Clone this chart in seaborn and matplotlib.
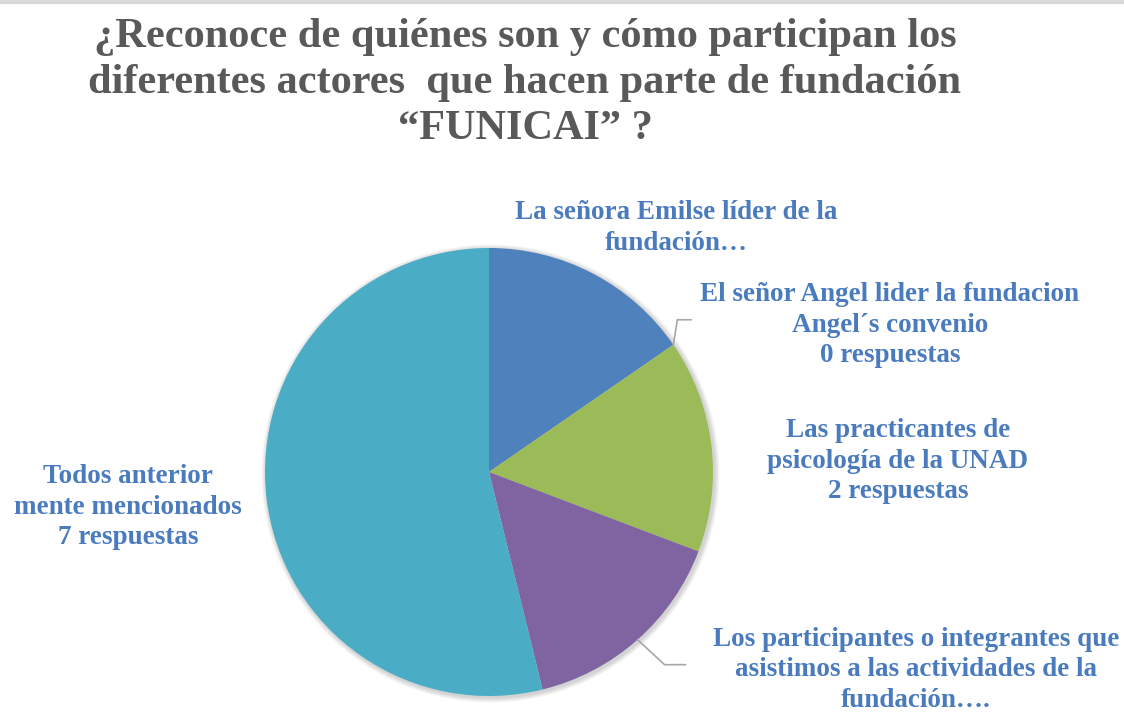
import matplotlib
matplotlib.use("Agg")
import matplotlib.pyplot as plt
import numpy as np
import seaborn as sns

# data
categories = [
    "La señora Emilse líder de la\nfundación…",
    "El señor Angel lider la fundacion\nAngel´s convenio\n0 respuestas",
    "Las practicantes de\npsicología de la UNAD\n2 respuestas",
    "Los participantes o integrantes que\nasistimos a las actividades de la\nfundación….",
    "Todos anterior\nmente mencionados\n7 respuestas",
]
responses = [2, 0, 2, 2, 7]
slice_colors = ["#4F81BD", "#C0504D", "#9BBB59", "#8064A2", "#4BACC6"]
title = "¿Reconoce de quiénes son y cómo participan los\ndiferentes actores  que hacen parte de fundación\n“FUNICAI” ?"

sns.set_theme(style="white")
plt.rcParams["font.family"] = ["Liberation Serif", "DejaVu Serif"]

W, H = 1124, 715
fig = plt.figure(figsize=(W / 100, H / 100), dpi=100)
ax = fig.add_axes([0, 0, 1, 1])

cx, cy, r = 489, H - 472, 224

# soft shadow behind the pie
for k in range(1, 6):
    ax.add_patch(plt.Circle((cx + 1.5, cy - 1.5), r + k, color="#000000",
                            alpha=0.035, lw=0, zorder=0))

ax.pie(responses, colors=slice_colors, startangle=90, counterclock=False,
       center=(cx, cy), radius=r, wedgeprops=dict(linewidth=0, zorder=1))
ax.set_xlim(0, W)
ax.set_ylim(0, H)
ax.set_aspect("equal")
ax.axis("off")

# light rule along the top edge
ax.plot([0, W], [H - 1.5, H - 1.5], color="#d9d9d9", lw=3, solid_capstyle="butt")

ax.text(525, H - 83, title, ha="center", va="center", fontsize=30.5,
        fontweight="bold", color="#595959", linespacing=1.26)

label_color = "#4a7bbf"
label_pos = [(676, 228), (890, 325), (898, 461), (916, 670), (128, 507)]
for lab, (x, y) in zip(categories, label_pos):
    ax.text(x, H - y, lab, ha="center", va="center", fontsize=19.5,
            fontweight="bold", color=label_color, linespacing=1.27)

# leader lines for the zero slice and the participants slice
total = sum(responses)
cum = np.cumsum([0] + responses)
def edge_point(frac):
    ang = np.deg2rad(90 - 360 * frac)
    return cx + r * np.cos(ang), cy + r * np.sin(ang)

x0, y0 = edge_point((cum[1] + responses[1] / 2) / total)
ax.plot([x0, x0 + 4, x0 + 18], [y0, y0 + 25, y0 + 25], color="#a6a6a6", lw=1.2)
x1, y1 = edge_point((cum[3] + responses[3] / 2) / total)
ax.plot([x1, x1 + 27, x1 + 48], [y1, y1 - 25, y1 - 25], color="#a6a6a6", lw=1.2)

fig.savefig("out.png", dpi=100)
